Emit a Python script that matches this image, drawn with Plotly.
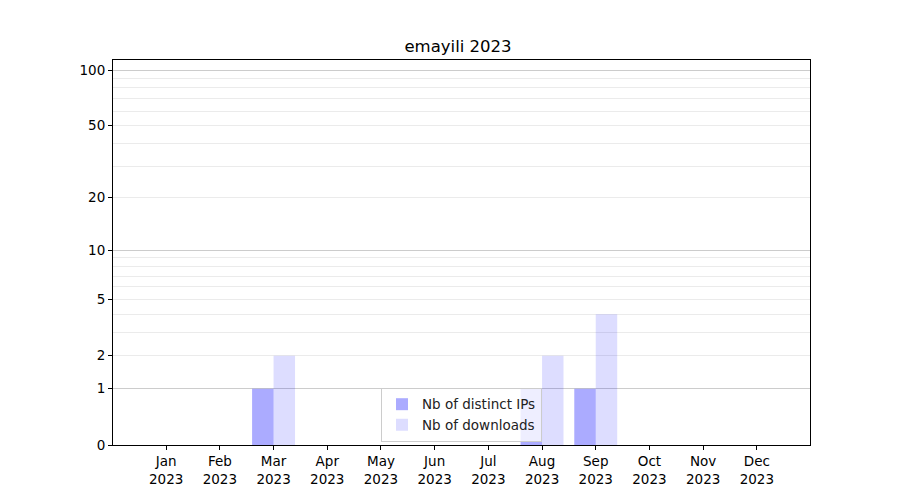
import numpy as np
import plotly.graph_objects as go

months = ["Jan", "Feb", "Mar", "Apr", "May", "Jun", "Jul", "Aug", "Sep", "Oct", "Nov", "Dec"]
year = "2023"
distinct_ips = [0, 0, 1, 0, 0, 0, 0, 1, 1, 0, 0, 0]
downloads = [0, 0, 2, 0, 0, 0, 0, 2, 4, 0, 0, 0]
tick_values = [0, 1, 2, 5, 10, 20, 50, 100]
major_grid_values = [1, 10, 100]
minor_grid_values = [3, 4, 6, 7, 8, 9, 30, 40, 60, 70, 80, 90]
y_max = 113.3


def tr(v):
    return np.log10(1 + np.asarray(v, dtype=float))


x_idx = np.arange(len(months))
labels = [f"{m}<br>{year}" for m in months]
bw = 0.4

fig = go.Figure()
fig.add_trace(go.Bar(x=x_idx - bw / 2, y=tr(distinct_ips), width=bw,
                     marker=dict(color="rgba(0,0,255,0.33)", line=dict(width=0)),
                     name="Nb of distinct IPs"))
fig.add_trace(go.Bar(x=x_idx + bw / 2, y=tr(downloads), width=bw,
                     marker=dict(color="rgba(0,0,255,0.135)", line=dict(width=0)),
                     name="Nb of downloads"))
# invisible trace for overlay axis
fig.add_trace(go.Scatter(x=[0], y=[0], yaxis="y2", mode="markers",
                         marker=dict(opacity=0), showlegend=False, hoverinfo="skip"))

yr = [0, float(tr(y_max))]
font = dict(family="DejaVu Sans", size=13.5, color="black")
fig.update_layout(
    width=900, height=500,
    margin=dict(l=105, r=98, t=52, b=63),
    plot_bgcolor="white", paper_bgcolor="white",
    font=font,
    barmode="overlay",
    title=dict(text="emayili 2023", x=0.5, xanchor="center", y=1 - 38 / 500, yanchor="middle",
               font=dict(family="DejaVu Sans", size=16.5, color="black")),
    xaxis=dict(range=[-0.99, 11.99], tickmode="array", tickvals=x_idx, ticktext=labels,
               showgrid=False, zeroline=False, showline=True, linecolor="black", linewidth=1,
               mirror=True, ticks="outside", ticklen=4, tickcolor="black", tickfont=font),
    yaxis=dict(range=yr, tickmode="array", tickvals=tr(tick_values),
               ticktext=[str(v) for v in tick_values],
               showgrid=True, gridcolor="#ebebeb", gridwidth=1, zeroline=False,
               showline=True, linecolor="black", linewidth=1, mirror=True,
               ticks="outside", ticklen=4, tickcolor="black", tickfont=font,
               minor=dict(tickmode="array", tickvals=tr(minor_grid_values), showgrid=True,
                          gridcolor="#ebebeb", gridwidth=1, ticks="")),
    yaxis2=dict(range=yr, overlaying="y", side="left", tickmode="array",
                tickvals=tr(major_grid_values), showticklabels=False, ticks="",
                showgrid=True, gridcolor="#cccccc", gridwidth=1, zeroline=False, showline=False),
    legend=dict(x=0.5, y=0.008, xanchor="center", yanchor="bottom",
                bgcolor="rgba(255,255,255,0.8)", bordercolor="#cccccc", borderwidth=1,
                font=dict(family="DejaVu Sans", size=13.5, color="#222222")),
    showlegend=True,
)
fig.write_html("out.html")
